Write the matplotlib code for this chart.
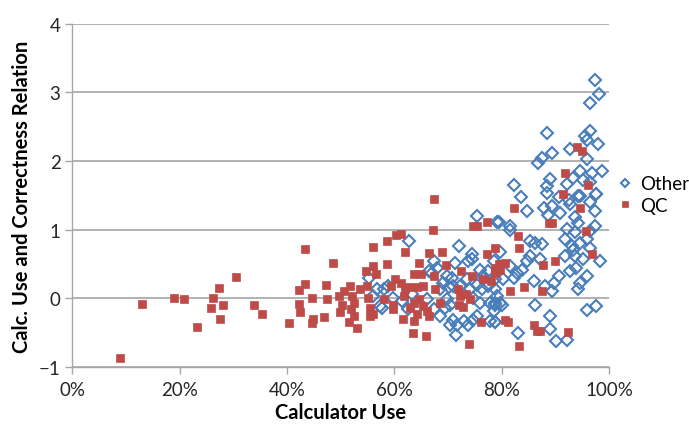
import matplotlib
matplotlib.use("Agg")
from matplotlib import pyplot as plt
from matplotlib.ticker import PercentFormatter

# QC series: calculator use (%) and relation value
qc_x = [8.8, 12.9, 18.9, 20.8, 23.3, 25.8, 26.2, 27.4, 28.1, 27.6, 30.5, 33.9, 35.4,
        40.3, 43.4, 48.6, 42.2, 43.4, 44.6, 42.3, 42.5, 44.9, 44.7, 46.9, 47.3, 47.5,
        49.7, 50.2, 49.9, 50.7, 51.8, 52.1, 52.4, 52.0, 52.4, 51.6, 53.0, 53.6, 54.9,
        55.0, 55.5, 55.4, 56.1, 54.8, 56.1, 56.6, 56.0, 58.6, 58.6,
        67.4, 67.2, 60.3, 61.2, 61.9, 64.5, 66.5, 68.9, 69.6, 63.6, 64.9, 60.1, 59.4,
        61.3, 62.0, 62.8, 61.7, 64.2, 65.4, 67.3, 67.6, 58.1, 59.8, 59.8, 63.0, 63.6,
        64.5, 65.3, 66.0, 66.4, 64.2, 61.6, 63.6, 68.5, 63.4, 65.9, 72.4, 74.4, 71.8,
        72.2, 73.4, 74.1, 72.1, 72.7, 76.2, 73.9, 74.7, 75.4, 77.3, 77.3, 78.8, 78.8,
        76.6, 78.0, 79.4,
        91.4, 82.2, 94.5, 88.8, 89.3, 95.7, 83.1, 83.2, 96.8, 90.0, 87.6, 80.6, 78.7,
        79.7, 84.2, 87.5, 81.6, 80.6, 81.1, 86.1, 86.5, 87.2, 92.4, 83.3,
        94.1, 94.9, 91.7, 96.0]
qc_y = [-0.87, -0.08, 0.00, -0.01, -0.41, -0.14, 0.01, 0.15, -0.09, -0.30, 0.31, -0.09, -0.23,
        -0.36, 0.72, 0.51, 0.12, 0.21, 0.01, -0.08, -0.20, -0.30, -0.36, -0.27, 0.20, -0.01,
        0.03, -0.09, -0.20, 0.11, 0.18, 0.04, -0.06, -0.16, -0.25, -0.35, -0.43, 0.13, 0.18,
        0.01, -0.14, -0.26, -0.23, 0.40, 0.47, 0.35, 0.75, 0.83, 0.50,
        1.45, 1.00, 0.93, 0.94, 0.67, 0.51, 0.66, 0.67, 0.49, 0.35, 0.36, 0.29, 0.18,
        0.23, 0.13, 0.16, 0.04, 0.16, 0.18, 0.32, 0.13, -0.01, -0.09, -0.16, -0.14, -0.06,
        -0.01, -0.11, -0.18, -0.25, -0.23, -0.30, -0.33, -0.07, -0.51, -0.55, 0.40, 0.33, 0.13,
        0.03, 0.07, -0.01, -0.09, -0.12, -0.35, -0.67, 1.05, 1.06, 1.12, 0.64, 0.74, 0.45,
        0.29, 0.25, 0.50,
        1.52, 1.31, 1.31, 1.10, 1.10, 0.98, 0.91, 0.74, 0.65, 0.54, 0.48, 0.51, 0.37,
        0.42, 0.16, 0.11, 0.11, -0.31, -0.35, -0.38, -0.48, -0.48, -0.49, -0.70,
        2.21, 2.15, 1.82, 1.65]

# Other series
other_x = [55.2, 56.7, 56.1, 57.4, 58.9,
           75.4, 79.2, 62.7, 72.1, 74.4, 73.8, 71.3, 67.3, 67.9, 66.4, 69.8, 70.7, 69.1,
           70.1, 71.0, 68.5, 76.0, 77.5, 76.6, 75.4, 76.3, 77.5, 78.8, 79.1, 77.8, 78.8,
           78.5, 76.0, 75.4, 74.7, 78.8, 77.8, 70.4, 71.6, 71.0, 72.9, 73.8, 71.5, 69.8,
           70.4, 69.5, 68.5, 67.3, 66.0, 61.4, 59.8, 57.7, 58.0, 63.2, 62.6, 67.0, 73.5,
           72.2, 74.1, 74.7, 81.6, 74.4, 79.6,
           88.4, 90.6, 92.6, 94.5, 97.6, 96.5, 97.4, 83.6, 84.7, 87.8, 89.3, 88.7, 90.9,
           92.7, 93.7, 94.3, 91.8, 93.1, 94.6, 95.8, 96.5, 98.3, 95.2, 93.9, 92.7, 95.8,
           94.6, 94.3, 90.6, 89.7, 89.3, 88.1, 86.0, 87.2, 85.3, 84.7, 83.7, 82.8, 82.2,
           81.6, 86.2, 87.5, 85.3, 81.6, 79.4, 79.7, 78.5, 80.3, 78.8, 80.0, 78.8, 86.2,
           78.8, 83.1, 89.0, 89.0, 90.2, 92.2, 95.9, 97.5, 92.1, 93.7, 96.5, 97.4, 91.8,
           93.7, 93.3,
           97.3, 98.1, 96.5, 96.5, 95.5, 95.8, 97.9, 88.5, 89.3, 92.7, 87.5, 86.8, 95.8,
           98.7, 96.8, 94.6, 93.2, 89.0, 92.1, 82.2, 95.2, 96.5, 94.3, 97.5, 88.4]
other_y = [0.30, 0.13, 0.03, -0.11, 0.18,
           1.20, 1.12, 0.84, 0.76, 0.64, 0.54, 0.52, 0.54, 0.45, 0.40, 0.33, 0.30, 0.23,
           0.16, 0.18, 0.13, 0.42, 0.40, 0.33, 0.20, 0.13, 0.18, 0.28, 0.03, -0.06, -0.09,
           -0.18, -0.06, -0.26, -0.31, -0.35, -0.33, -0.38, -0.39, -0.31, -0.33, -0.38, -0.54, -0.01,
           -0.09, -0.14, -0.25, -0.16, -0.01, -0.04, 0.01, -0.14, 0.13, 0.06, -0.16, 0.37, 0.28,
           0.18, 0.13, 0.01, 1.00, 0.57, -0.07,
           1.54, 1.48, 1.44, 1.49, 1.52, 1.40, 1.27, 1.47, 1.27, 1.32, 1.35, 1.22, 1.25,
           1.37, 1.18, 1.10, 0.86, 0.76, 0.81, 0.86, 0.74, 0.54, 0.57, 0.45, 0.40, 0.33,
           0.23, 0.13, 0.33, 0.23, 0.11, 0.18, 0.25, 0.57, 0.62, 0.54, 0.42, 0.37, 0.30,
           0.47, 0.81, 0.79, 0.84, 1.05, 1.11, 0.67, 0.54, 0.28, 0.13, -0.09, -0.06, -0.09,
           -0.35, -0.50, -0.26, -0.44, -0.62, -0.61, -0.17, -0.11, 1.01, 0.96, 0.98, 1.05, 0.62,
           0.62, 0.71,
           3.18, 2.97, 2.84, 2.44, 2.37, 2.30, 2.25, 2.41, 2.12, 2.17, 2.04, 1.97, 2.03,
           1.85, 1.83, 1.86, 1.76, 1.74, 1.66, 1.65, 1.73, 1.69, 1.49, 1.52, 1.64]

blue = "#4a7ebb"
red = "#be4b48"
grey = "#a6a6a6"

plt.rcParams["font.family"] = ["Lato", "DejaVu Sans"]

fig = plt.figure(figsize=(6.89, 4.27), dpi=100)
ax = fig.add_axes([0.105, 0.138, 0.779, 0.804])

ax.plot(other_x, other_y, linestyle="none", marker="D", markersize=5.8,
        markerfacecolor="none", markeredgecolor=blue, markeredgewidth=1.5, label="Other")
ax.plot(qc_x, qc_y, linestyle="none", marker="s", markersize=6.0,
        markerfacecolor=red, markeredgecolor=red, markeredgewidth=0.5, label="QC")

ax.set_xlim(0, 100)
ax.set_ylim(-1, 4)
ax.set_xticks([0, 20, 40, 60, 80, 100])
ax.set_yticks([-1, 0, 1, 2, 3, 4])
ax.xaxis.set_major_formatter(PercentFormatter(100, decimals=0))
ax.grid(axis="y", color=grey, linewidth=1.2)
ax.set_axisbelow(True)
for side in ["top", "right"]:
    ax.spines[side].set_visible(False)
for side in ["left", "bottom"]:
    ax.spines[side].set_color(grey)
    ax.spines[side].set_linewidth(1.0)
ax.tick_params(axis="both", colors=grey, labelcolor="#262626", labelsize=13.5,
               length=5, width=1.0, direction="out")
ax.tick_params(axis="x", pad=5)

ax.set_xlabel("Calculator Use", fontsize=14.5, fontweight="bold", labelpad=3)
ax.set_ylabel("Calc. Use and Correctness Relation", fontsize=14.5, fontweight="bold", labelpad=5)

fig.legend(loc="upper left", bbox_to_anchor=(0.885, 0.605), frameon=False,
           fontsize=13.5, handlelength=0.8, handletextpad=0.4, labelspacing=0.25,
           borderaxespad=0, markerscale=0.75)

fig.savefig("out.png", dpi=100)
